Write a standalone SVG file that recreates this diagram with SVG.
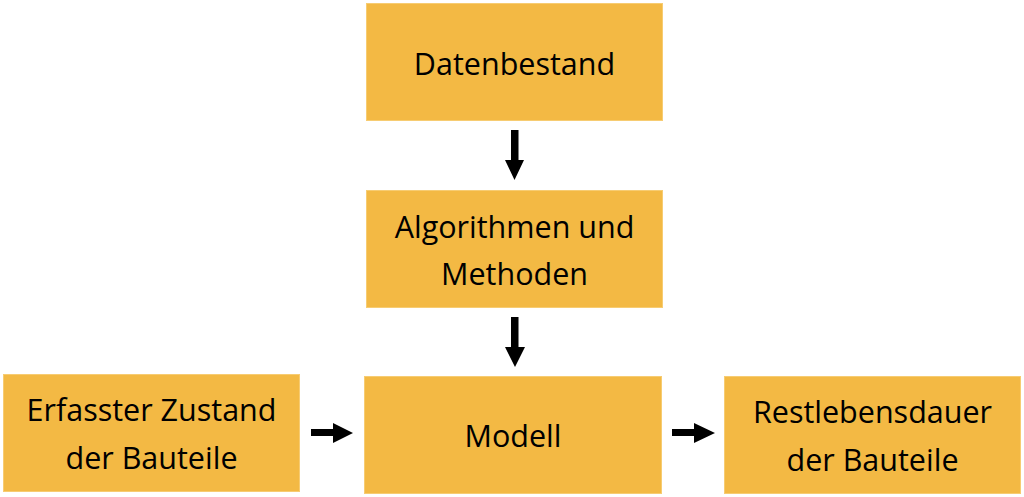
<svg xmlns="http://www.w3.org/2000/svg" width="1024" height="497" viewBox="0 0 1024 497">
<style>
.box{fill:#F3B944;stroke:#F7CC72;stroke-width:1}
.t{font-family:"Open Sans","Noto Sans",sans-serif;font-size:30.5px;fill:#000;text-anchor:middle}
.arr{fill:#000}
</style>
<rect width="1024" height="497" fill="#fff"/>
<g id="datenbestand"><rect class="box" x="366.5" y="3.5" width="296" height="117"/><text class="t" x="514.5" y="75">Datenbestand</text></g>
<g id="algorithmen"><rect class="box" x="366.5" y="190.5" width="296" height="117"/><text class="t" x="514.5" y="238">Algorithmen und</text><text class="t" x="514.5" y="285">Methoden</text></g>
<g id="modell"><rect class="box" x="364.5" y="376.5" width="297" height="117"/><text class="t" x="513" y="447">Modell</text></g>
<g id="erfasster"><rect class="box" x="3.5" y="374.5" width="296" height="117"/><text class="t" x="151.5" y="421">Erfasster Zustand</text><text class="t" x="151.5" y="469">der Bauteile</text></g>
<g id="restlebensdauer"><rect class="box" x="724.5" y="376.5" width="296" height="117"/><text class="t" x="872.5" y="423">Restlebensdauer</text><text class="t" x="872.5" y="471">der Bauteile</text></g>
<g id="connectors">
<polygon class="arr" points="511,130 518.5,130 518.5,160 524,160 514.5,180 505,160 511,160"/>
<polygon class="arr" points="511,317 518.5,317 518.5,347 525,347 515,367 505,347 511,347"/>
<polygon class="arr" points="311,429 333,429 333,423 353,433 333,443 333,436 311,436"/>
<polygon class="arr" points="672,429 694,429 694,423 715,433 694,443 694,436 672,436"/>
</g>
</svg>
